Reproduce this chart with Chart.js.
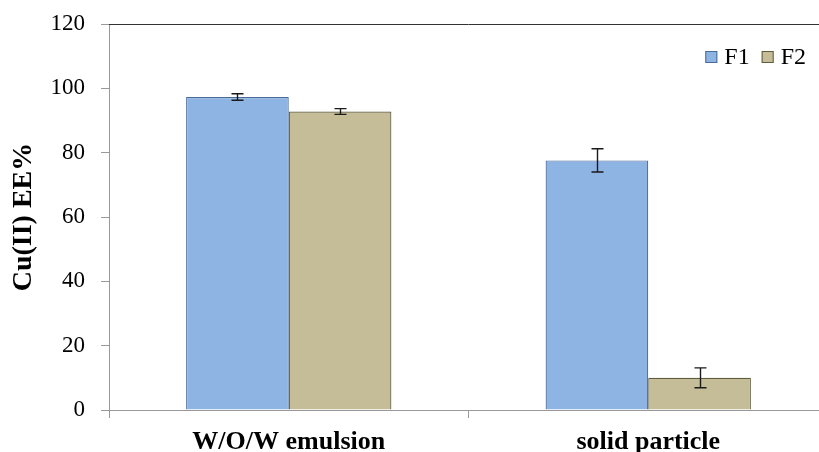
<!DOCTYPE html>
<html>
<head>
<meta charset="utf-8">
<script src="https://cdn.jsdelivr.net/npm/chart.js@4.4.0/dist/chart.umd.min.js"></script>
<style>
  html, body { margin: 0; padding: 0; background: #fff; overflow: hidden; }
  #wrap { position: relative; width: 828px; height: 452px; }
</style>
</head>
<body>
<div id="wrap"><canvas id="chart"></canvas></div>
<script>
// Cu(II) encapsulation efficiency by preparation method
const categories = ['W/O/W emulsion', 'solid particle'];
const seriesNames = ['F1', 'F2'];
const f1Values = [97.3, 77.6];
const f2Values = [92.8, 10.0];
const f1Errors = [1.0, 3.6];
const f2Errors = [0.9, 3.1];
const yTicks = [0, 20, 40, 60, 80, 100, 120];

const SERIF = '"Liberation Serif", "Times New Roman", serif';

// error bars drawn on top of each bar, through the y scale
const errorBars = {
    id: 'errorBars',
    afterDatasetsDraw(chart) {
        const { ctx, scales: { y } } = chart;
        ctx.save();
        ctx.strokeStyle = '#1a1a1a';
        ctx.lineWidth = 1.4;
        chart.data.datasets.forEach((ds, i) => {
            const meta = chart.getDatasetMeta(i);
            meta.data.forEach((bar, j) => {
                const v = ds.data[j];
                const e = ds.errors[j];
                const top = y.getPixelForValue(v + e);
                const bot = y.getPixelForValue(v - e);
                const x = Math.round(bar.x) + 0.5;
                ctx.beginPath();
                ctx.moveTo(x, top);
                ctx.lineTo(x, bot);
                ctx.moveTo(x - 6, top);
                ctx.lineTo(x + 6, top);
                ctx.moveTo(x - 6, bot);
                ctx.lineTo(x + 6, bot);
                ctx.stroke();
            });
        });
        ctx.restore();
    }
};

// dark line closing the top of the plot area
const topBorder = {
    id: 'topBorder',
    afterDraw(chart) {
        const { ctx, chartArea } = chart;
        ctx.save();
        ctx.strokeStyle = '#333';
        ctx.lineWidth = 1;
        ctx.beginPath();
        ctx.moveTo(chartArea.left, Math.round(chartArea.top) + 0.5);
        ctx.lineTo(chartArea.right, Math.round(chartArea.top) + 0.5);
        ctx.stroke();
        ctx.restore();
    }
};

// small legend sitting inside the plot, top right
const insideLegend = {
    id: 'insideLegend',
    afterDraw(chart) {
        const { ctx, chartArea } = chart;
        const box = 12;
        const gap = 7;
        const spacing = 12;
        ctx.save();
        ctx.font = '24px ' + SERIF;
        ctx.textBaseline = 'middle';
        const items = chart.data.datasets.map(ds => ({
            ds, w: box + gap + ctx.measureText(ds.label).width
        }));
        const total = items.reduce((s, it) => s + it.w, 0) + spacing * (items.length - 1);
        let x = chartArea.right - 22 - total;
        const cy = chartArea.top + 33;
        items.forEach(({ ds, w }) => {
            ctx.fillStyle = ds.backgroundColor;
            ctx.fillRect(x, cy - box / 2, box, box);
            ctx.strokeStyle = ds.borderColor;
            ctx.lineWidth = 1;
            ctx.strokeRect(x + 0.5, cy - box / 2 + 0.5, box - 1, box - 1);
            ctx.fillStyle = '#000';
            ctx.fillText(ds.label, x + box + gap, cy + 1);
            x += w + spacing;
        });
        ctx.restore();
    }
};

new Chart(document.getElementById('chart'), {
    type: 'bar',
    data: {
        labels: categories,
        datasets: [
            {
                label: seriesNames[0],
                data: f1Values,
                errors: f1Errors,
                backgroundColor: '#8EB4E3',
                borderColor: '#4A6B99',
                borderWidth: 1.2
            },
            {
                label: seriesNames[1],
                data: f2Values,
                errors: f2Errors,
                backgroundColor: '#C4BD97',
                borderColor: '#5F5B3E',
                borderWidth: 1.2
            }
        ]
    },
    options: {
        responsive: true,
        maintainAspectRatio: false,
        animation: false,
        layout: { padding: { top: 24, left: 0, right: 0, bottom: 0 } },
        datasets: {
            bar: { categoryPercentage: 0.571, barPercentage: 1.0 }
        },
        plugins: {
            legend: { display: false },
            tooltip: { enabled: false }
        },
        scales: {
            x: {
                grid: {
                    display: true,
                    drawOnChartArea: false,
                    offset: true,
                    tickLength: 8,
                    color: '#999'
                },
                border: { color: '#999', width: 1 },
                ticks: {
                    color: '#000',
                    padding: 9,
                    font: { family: SERIF, size: 26, weight: 'bold' }
                },
                afterFit(scale) {
                    scale.height = 42;
                    scale.paddingLeft = 0;
                    scale.paddingRight = 0;
                }
            },
            y: {
                min: 0,
                max: 120,
                afterBuildTicks(scale) {
                    scale.ticks = yTicks.map(v => ({ value: v }));
                },
                grid: {
                    display: true,
                    drawOnChartArea: false,
                    tickLength: 8,
                    color: '#999'
                },
                border: { color: '#999', width: 1 },
                ticks: {
                    color: '#000',
                    padding: 16,
                    font: { family: SERIF, size: 23 }
                },
                title: {
                    display: true,
                    text: 'Cu(II) EE%',
                    color: '#000',
                    padding: { top: 7, bottom: 0 },
                    font: { family: SERIF, size: 28, weight: 'bold' }
                },
                afterFit(scale) {
                    scale.width = 109;
                    scale.paddingTop = 0;
                    scale.paddingBottom = 0;
                }
            }
        }
    },
    plugins: [errorBars, topBorder, insideLegend]
});
</script>
</body>
</html>
